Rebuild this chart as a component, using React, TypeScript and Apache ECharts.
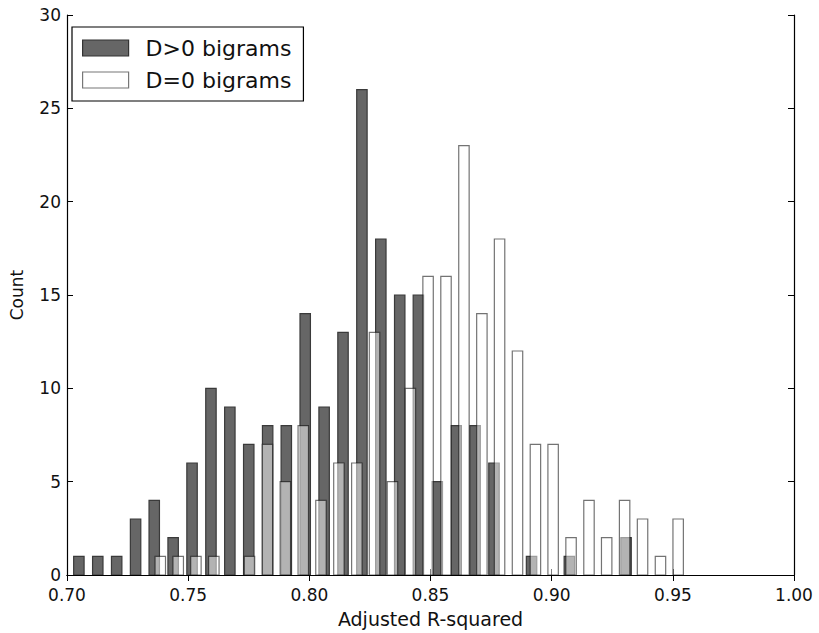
import React, { useEffect, useRef } from "react";
import * as echarts from "echarts";

// D>0 bigrams: bin centres (Adjusted R-squared) and counts
const darkCenters = [
  0.7049, 0.7127, 0.7205, 0.7283, 0.736, 0.7438, 0.7516, 0.7594, 0.7672, 0.775,
  0.7828, 0.7905, 0.7983, 0.8061, 0.8139, 0.8217, 0.8295, 0.8373, 0.845, 0.8528,
  0.8606, 0.8684, 0.8762, 0.8917, 0.9073, 0.9307,
];
const darkCounts = [
  1, 1, 1, 3, 4, 2, 6, 10, 9, 7,
  8, 8, 14, 9, 13, 26, 18, 15, 15, 5,
  8, 8, 6, 1, 1, 2,
];

// D=0 bigrams: bin centres and counts
const whiteCenters = [
  0.7385, 0.7459, 0.7532, 0.7606, 0.768, 0.7753, 0.7827, 0.7901, 0.7975, 0.8048,
  0.8122, 0.8196, 0.8269, 0.8343, 0.8417, 0.849, 0.8564, 0.8638, 0.8712, 0.8785,
  0.8859, 0.8933, 0.9006, 0.908, 0.9154, 0.9227, 0.9301, 0.9375, 0.9449, 0.9522,
];
const whiteCounts = [
  1, 1, 1, 1, 0, 1, 7, 5, 8, 4,
  6, 6, 13, 5, 10, 16, 16, 23, 14, 18,
  12, 7, 7, 2, 4, 2, 4, 3, 1, 3,
];

const seriesNames = ["D>0 bigrams", "D=0 bigrams"];
const xTitle = "Adjusted R-squared";
const yTitle = "Count";

const HALF_WIDTH = 0.00215;
const FONT = "DejaVu Sans";

function makeRender(fill: string, stroke: string) {
  return (params: any, api: any) => {
    const x = api.value(0);
    const y = api.value(1);
    if (!y) return null;
    const p0 = api.coord([x - HALF_WIDTH, y]);
    const p1 = api.coord([x + HALF_WIDTH, 0]);
    return {
      type: "rect",
      shape: { x: p0[0], y: p0[1], width: p1[0] - p0[0], height: p1[1] - p0[1] },
      style: { fill, stroke, lineWidth: 1.2 },
    };
  };
}

export default function App() {
  const ref = useRef<HTMLDivElement>(null);
  useEffect(() => {
    if (!ref.current) return;
    const chart = echarts.init(ref.current, null, { renderer: "svg" });
    const axisCommon = {
      axisLine: { show: true, lineStyle: { color: "#000", width: 1.2 } },
      axisTick: { show: true, inside: true, length: 6, lineStyle: { color: "#000", width: 1 } },
      splitLine: { show: false },
    };
    chart.setOption({
      animation: false,
      backgroundColor: "#fff",
      textStyle: { fontFamily: FONT },
      grid: { left: 61, right: 25, top: 15, bottom: 46, containLabel: false },
      legend: {
        orient: "vertical",
        left: 72,
        top: 27,
        padding: [10, 12, 10, 10],
        itemWidth: 46,
        itemHeight: 16,
        itemGap: 10,
        icon: "rect",
        borderColor: "#000",
        borderWidth: 1.2,
        backgroundColor: "#fff",
        textStyle: { fontSize: 22, color: "#111", fontFamily: FONT, padding: [0, 0, 0, 12] },
        data: [
          { name: seriesNames[0], itemStyle: { color: "#666", borderColor: "#333", borderWidth: 1.2 } },
          { name: seriesNames[1], itemStyle: { color: "#fff", borderColor: "#777", borderWidth: 1.2 } },
        ],
      },
      xAxis: [
        {
          type: "value",
          min: 0.7,
          max: 1.0,
          interval: 0.05,
          ...axisCommon,
          axisLabel: {
            fontSize: 17,
            color: "#111",
            margin: 11,
            fontFamily: FONT,
            formatter: (v: number) => v.toFixed(2),
          },
          name: xTitle,
          nameLocation: "middle",
          nameGap: 34,
          nameTextStyle: { fontSize: 19, color: "#111", fontFamily: FONT },
        },
        {
          type: "value",
          position: "top",
          min: 0.7,
          max: 1.0,
          interval: 0.05,
          ...axisCommon,
          axisLabel: { show: false },
        },
      ],
      yAxis: [
        {
          type: "value",
          min: 0,
          max: 30,
          interval: 5,
          ...axisCommon,
          axisLabel: { fontSize: 17, color: "#111", margin: 6, fontFamily: FONT },
          name: yTitle,
          nameLocation: "middle",
          nameGap: 42,
          nameTextStyle: { fontSize: 17, color: "#111", fontFamily: FONT },
        },
        {
          type: "value",
          position: "right",
          min: 0,
          max: 30,
          interval: 5,
          ...axisCommon,
          axisLabel: { show: false },
        },
      ],
      series: [
        {
          name: seriesNames[0],
          type: "custom",
          xAxisIndex: 0,
          yAxisIndex: 0,
          clip: true,
          itemStyle: { color: "#666", borderColor: "#333" },
          renderItem: makeRender("#666666", "#3a3a3a"),
          encode: { x: 0, y: 1 },
          data: darkCenters.map((c, i) => [c, darkCounts[i]]),
        },
        {
          name: seriesNames[1],
          type: "custom",
          xAxisIndex: 0,
          yAxisIndex: 0,
          clip: true,
          itemStyle: { color: "#fff", borderColor: "#777" },
          renderItem: makeRender("rgba(255,255,255,0.5)", "rgba(0,0,0,0.55)"),
          encode: { x: 0, y: 1 },
          data: whiteCenters.map((c, i) => [c, whiteCounts[i]]),
        },
      ],
    });
    return () => chart.dispose();
  }, []);
  return (
    <div
      ref={ref}
      style={{ position: "fixed", left: 0, top: 0, width: 819, height: 633, background: "#fff" }}
    />
  );
}
